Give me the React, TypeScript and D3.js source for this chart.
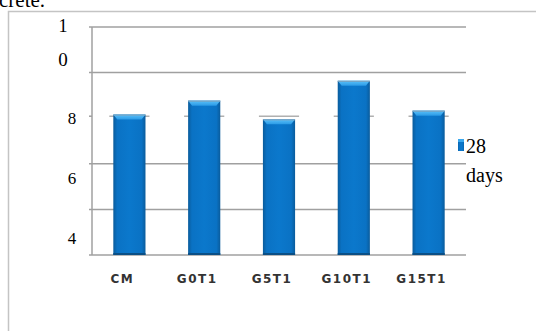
import React from "react";
import * as d3 from "d3";

const categories = ["CM", "G0T1", "G5T1", "G10T1", "G15T1"];
const values28 = [6.16, 6.77, 5.95, 7.64, 6.33];
const gridValues = [0, 2, 4, 6, 8, 10];
const stubGridValues = [6];
const axisLabels = ["4", "6", "8", "10"];
const axisLabelValues = [4, 6, 8, 10];
const seriesName = ["28", "days"];

export default function App() {
  const W = 536, H = 331;
  const x = d3.scaleBand<string>().domain(categories).range([92, 466]).paddingInner(0.57).paddingOuter(0.285);
  const y = d3.scaleLinear().domain([0, 10]).range([255, 27]);
  const labelY = d3.scaleLinear().domain([4, 10]).range([238, 58]);
  const bw = x.bandwidth();
  return (
    <svg width={W} height={H} style={{ position: "absolute", left: 0, top: 0, background: "#fff" }}>
      <defs>
        <linearGradient id="barG" x1="0" x2="1" y1="0" y2="0">
          <stop offset="0" stopColor="#0a5c9c" />
          <stop offset="0.12" stopColor="#0a72c4" />
          <stop offset="0.5" stopColor="#0b78cc" />
          <stop offset="0.88" stopColor="#0a72c4" />
          <stop offset="1" stopColor="#0a5c9c" />
        </linearGradient>
        <linearGradient id="capG" x1="0" x2="0" y1="0" y2="1">
          <stop offset="0" stopColor="#5cc2fa" />
          <stop offset="1" stopColor="#2a9ae6" />
        </linearGradient>
      </defs>
      <text x={-1} y={7} fontFamily="Liberation Serif, serif" fontSize={21} fill="#000">crete.</text>
      <rect x={8.5} y={11.5} width={540} height={330} fill="none" stroke="#c4c4c4" strokeWidth={1.5} />
      {gridValues.map((g) => (
        stubGridValues.includes(g) ? null : (
          <line key={g} x1={89} x2={466} y1={y(g)} y2={y(g)} stroke="#a0a0a0" strokeWidth={1.5} />
        )
      ))}
      {stubGridValues.map((g) =>
        categories.map((c) => (
          <line key={g + c} x1={(x(c) as number) - 4} x2={(x(c) as number) + bw + 4} y1={y(g) - 2} y2={y(g) - 2} stroke="#b0b0b0" strokeWidth={1.5} />
        ))
      )}
      <line x1={89} x2={92} y1={y(6) - 2} y2={y(6) - 2} stroke="#a0a0a0" strokeWidth={1.5} />
      <line x1={92} x2={92} y1={y(10)} y2={y(0)} stroke="#a0a0a0" strokeWidth={1.5} />
      {categories.map((c, i) => {
        const x0 = x(c) as number;
        const top = y(values28[i]);
        const cap = 5;
        return (
          <g key={c}>
            <rect x={x0} y={top} width={bw} height={y(0) - top} fill="url(#barG)" />
            <path d={`M${x0},${top} L${x0 + bw},${top} L${x0 + bw - 4},${top + cap} L${x0 + 4},${top + cap} Z`} fill="url(#capG)" />
            <line x1={x0} x2={x0 + bw} y1={top + 0.5} y2={top + 0.5} stroke="#7f9fb8" strokeWidth={1} />
            <rect x={x0} y={y(0) - 2} width={bw} height={2} fill="#0a4f86" />
          </g>
        );
      })}
      {axisLabels.map((l, i) =>
        l.length > 1 ? (
          <g key={l}>
            <text x={63} y={labelY(axisLabelValues[i]) - 26} textAnchor="middle" fontFamily="Liberation Serif, serif" fontSize={18} fill="#000">{l[0]}</text>
            <text x={63} y={labelY(axisLabelValues[i]) + 8} textAnchor="middle" fontFamily="Liberation Serif, serif" fontSize={19} fill="#000">{l.slice(1)}</text>
          </g>
        ) : (
          <text key={l} x={72} y={labelY(axisLabelValues[i]) + 6} textAnchor="middle" fontFamily="Liberation Serif, serif" fontSize={17} fill="#000">{l}</text>
        )
      )}
      {categories.map((c) => (
        <text key={c} x={(x(c) as number) + bw / 2 - 7} y={283} textAnchor="middle" fontFamily="DejaVu Sans, sans-serif" fontSize={12} fontWeight="bold" letterSpacing={1.5} fill="#333">{c}</text>
      ))}
      <rect x={458} y={139} width={6} height={12} fill="url(#barG)" />
      <rect x={458} y={139} width={6} height={3} fill="#3aa8ee" />
      <text x={466} y={153} fontFamily="Liberation Serif, serif" fontSize={20} fill="#000">{seriesName[0]}</text>
      <text x={466} y={182} fontFamily="Liberation Serif, serif" fontSize={20} fill="#000">{seriesName[1]}</text>
    </svg>
  );
}
